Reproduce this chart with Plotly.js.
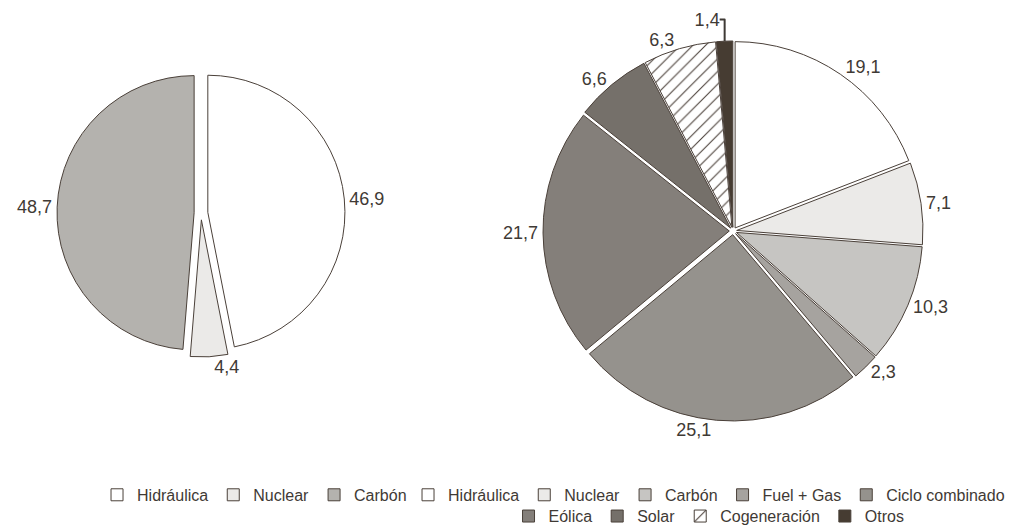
<!DOCTYPE html>
<html>
<head>
<meta charset="utf-8">
<script src="https://cdn.plot.ly/plotly-3.0.1.min.js"></script>
<style>html,body{margin:0;padding:0;background:#fff;}</style>
</head>
<body>
<div id="chart" style="width:1010px;height:531px;"></div>
<script>
// ---- Data ----
var leftLabels = ["Hidráulica", "Nuclear", "Carbón"];
var leftValues = [46.9, 4.4, 48.7];
var leftColors = ["#ffffff", "#ebeae8", "#b4b2ae"];

var rightLabels = ["Hidráulica", "Nuclear", "Carbón", "Fuel + Gas", "Ciclo combinado",
                   "Eólica", "Solar", "Cogeneración", "Otros"];
var rightValues = [19.1, 7.1, 10.3, 2.3, 25.1, 21.7, 6.6, 6.3, 1.4];
var rightColors = ["#ffffff", "#ebeae8", "#c6c5c2", "#a6a39f", "#95928d",
                   "#847f7a", "#75706a", "#ffffff", "#463c32"];
var rightPatterns = ["", "", "", "", "", "", "", "/", ""];

var rowSplit = 5; // legend rows for the right chart

// ---- Styles ----
var lineColor = "#4a4039";
var textColor = "#3f3a35";

function pieBase(labels, values, colors, patterns) {
  return {
    type: "pie",
    labels: labels,
    values: values,
    sort: false,
    direction: "clockwise",
    rotation: 0,
    marker: {
      colors: colors,
      line: {color: lineColor, width: 1},
      pattern: {shape: patterns, fgcolor: lineColor, bgcolor: "#ffffff", size: 9, solidity: 0.12}
    },
    hoverinfo: "none"
  };
}

var leftPie = pieBase(leftLabels, leftValues, leftColors, leftLabels.map(function(){return "";}));
leftPie.domain = {x: [0.0564, 0.3416], y: [0.3277, 0.870]};
leftPie.pull = 0.05;
leftPie.texttemplate = "%{value:.1f}";
leftPie.textposition = "outside";
leftPie.textfont = {size: 18, color: textColor};
leftPie.showlegend = true;
leftPie.legend = "legend";
leftPie.legendgroup = "left";

var rightPie = pieBase(rightLabels, rightValues, rightColors, rightPatterns);
rightPie.domain = {x: [0.5376, 0.9139], y: [0.2072, 0.9228]};
rightPie.pull = 0.02;
rightPie.texttemplate = "%{value:.1f}";
rightPie.textposition = "outside";
rightPie.textfont = {size: 18, color: textColor};
rightPie.showlegend = false;
rightPie.legendgroup = "rightpie";

// legend carriers for the two legend rows of the right chart (hidden under the right pie)
function legendCarrier(a, b, legendName) {
  var t = pieBase(rightLabels.slice(a, b), rightValues.slice(a, b),
                  rightColors.slice(a, b), rightPatterns.slice(a, b));
  t.domain = {x: [0.69, 0.6902], y: [0.38, 0.3802]};
  t.textinfo = "none";
  t.showlegend = true;
  t.legend = legendName;
  t.legendgroup = legendName;
  return t;
}
var carrier1 = legendCarrier(0, rowSplit, "legend2");
var carrier2 = legendCarrier(rowSplit, rightLabels.length, "legend3");

var legendCommon = {
  visible: true,
  orientation: "h",
  xanchor: "center",
  yanchor: "middle",
  font: {size: 16, color: textColor},
  itemwidth: 30,
  bgcolor: "rgba(0,0,0,0)",
  traceorder: "normal",
  itemclick: false,
  itemdoubleclick: false
};

var layout = {
  width: 1010,
  height: 531,
  margin: {l: 0, r: 0, t: 0, b: 0, autoexpand: false},
  showlegend: true,
  paper_bgcolor: "#ffffff",
  plot_bgcolor: "#ffffff",
  separators: ",.",
  font: {family: "Liberation Sans, Arial, sans-serif", color: textColor},
  legend: Object.assign({}, legendCommon, {x: 0.252, y: 0.068}),
  legend2: Object.assign({}, legendCommon, {x: 0.702, y: 0.068}),
  legend3: Object.assign({}, legendCommon, {x: 0.702, y: 0.028})
};

Plotly.newPlot("chart", [leftPie, carrier1, carrier2, rightPie], layout,
               {displayModeBar: false, staticPlot: true});
</script>
</body>
</html>
